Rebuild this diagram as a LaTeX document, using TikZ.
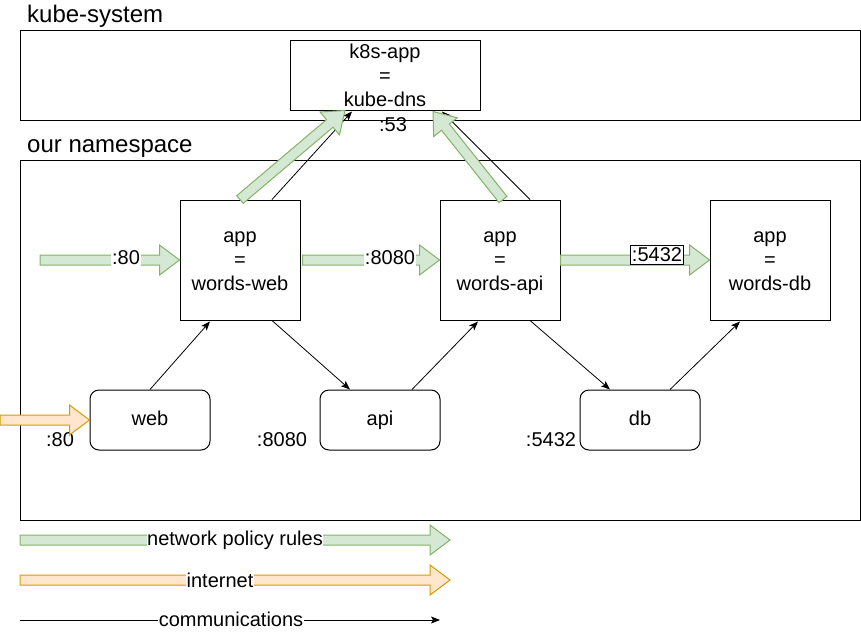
\documentclass[tikz,border=0pt]{standalone}
\usepackage{fontspec}
\setmainfont{Liberation Sans}
\usetikzlibrary{calc,arrows.meta}
\definecolor{gfill}{HTML}{D5E8D4}
\definecolor{gline}{HTML}{82B366}
\definecolor{ofill}{HTML}{FFE6CC}
\definecolor{oline}{HTML}{D79B00}
\newcommand\topstrut{\rule{0pt}{21pt}}
% block arrow: style, tail coordinate, tip coordinate
\newcommand\blockarrow[3]{%
  \coordinate (bac) at ($(#3)!20pt!(#2)$);
  \draw[#1] ($(#2)!5pt!90:(#3)$) -- ($(bac)!5pt!90:(#3)$) -- ($(bac)!15pt!90:(#3)$)
    -- (#3) -- ($(bac)!15pt!-90:(#3)$) -- ($(bac)!5pt!-90:(#3)$) -- ($(#2)!5pt!-90:(#3)$) -- cycle;}
\begin{document}
\begin{tikzpicture}[x=1pt,y=-1pt,
  txt/.style={font=\fontsize{20}{24}\selectfont},
  head/.style={font=\fontsize{24}{28}\selectfont, anchor=base west, inner sep=0pt},
  frame/.style={draw, line width=1pt, inner sep=0pt},
  box/.style={draw, line width=1pt, minimum width=120pt, minimum height=120pt, align=center, inner sep=0pt, txt},
  rbox/.style={draw, line width=1pt, rounded corners=9pt, minimum width=120pt, minimum height=60pt, inner sep=0pt, text height=15.5pt, text depth=4.5pt, txt},
  comm/.style={line width=0.8pt, -{Stealth[length=9pt,width=7pt,inset=2pt]}},
  garrow/.style={fill=gfill, draw=gline, line width=1pt},
  oarrow/.style={fill=ofill, draw=oline, line width=1pt},
  lbl/.style={txt, inner sep=1pt},
  lblw/.style={lbl, fill=white}]
\useasboundingbox (0,0) rectangle (861,632);

% frames
\node[frame, minimum width=840pt, minimum height=90pt] (ks) at (440,75) {};
\node[frame, minimum width=840pt, minimum height=360pt] (ns) at (440,340) {};
\node[head] (kslbl) at (27,22) {kube-system};
\node[head] (nslbl) at (27,152) {our namespace};

% nodes
\node[box, minimum width=190pt, minimum height=70pt] (dns) at (385,75) {k8s-app\\=\\kube-dns};
\node[box] (ww) at (240,260) {\topstrut app\\=\\words-web\strut};
\node[box] (wa) at (500,260) {\topstrut app\\=\\words-api\strut};
\node[box] (wd) at (770,260) {\topstrut app\\=\\words-db\strut};
\node[rbox] (web) at (150,420) {web};
\node[rbox] (api) at (380,420) {api};
\node[rbox] (db) at (640,420) {db};

% port labels
\node[lbl] (p53) at (393,125) {:53};
\node[lbl] (p80) at (60,440) {:80};
\node[lbl] (p8080) at (282,440) {:8080};
\node[lbl] (p5432) at (551,440) {:5432};

% communications
\draw[comm] ($(ww.north)+(32,0)$) -- ($(dns.south)+(-33,1)$);
\draw[comm] ($(wa.north)+(30,0)$) -- ($(dns.south)+(57,1)$);
\draw[comm] (web.north) -- ($(ww.south)+(-30,1)$);
\draw[comm] ($(ww.south)+(32,0)$) -- ($(api.north)+(-30,0)$);
\draw[comm] ($(api.north)+(32,0)$) -- ($(wa.south)+(-22,1)$);
\draw[comm] ($(wa.south)+(30,0)$) -- ($(db.north)+(-30,0)$);
\draw[comm] ($(db.north)+(30,0)$) -- ($(wd.south)+(-30,1)$);

% network policy arrows
\coordinate (in1) at (40,260);
\coordinate (wwe) at ($(ww.east)+(2,0)$);
\coordinate (wwn) at (ww.north);
\coordinate (dnsa) at ($(dns.south)+(-40,0)$);
\coordinate (wan) at ($(wa.north)+(3,0)$);
\coordinate (dnsb) at ($(dns.south)+(48,1)$);
\blockarrow{garrow}{in1}{ww.west}
\blockarrow{garrow}{wwe}{wa.west}
\blockarrow{garrow}{wa.east}{wd.west}
\blockarrow{garrow}{wwn}{dnsa}
\blockarrow{garrow}{wan}{dnsb}
\node[lblw] (r80) at (126,258) {:80};
\node[lblw] (r8080) at (390,258) {:8080};
\node[lbl, draw, fill=white, line width=1pt, inner xsep=1pt, inner ysep=2.5pt] (r5432) at (657,255) {:5432};

% internet
\coordinate (net) at (0,420);
\blockarrow{oarrow}{net}{web.west}

% legend
\coordinate (la1) at (20,540);
\coordinate (lb1) at (450,540);
\coordinate (la2) at (20,580);
\coordinate (lb2) at (450,580);
\coordinate (la3) at (20,620);
\coordinate (lb3) at (440,620);
\blockarrow{garrow}{la1}{lb1}
\blockarrow{oarrow}{la2}{lb2}
\draw[comm] (la3) -- (lb3);
\node[lblw, inner sep=0.5pt] (leg1) at (235,540) {network policy rules};
\node[lblw, inner sep=0.5pt] (leg2) at (220,580) {internet};
\node[lblw, inner sep=0.5pt] (leg3) at (231,619) {communications};
\end{tikzpicture}
\end{document}
